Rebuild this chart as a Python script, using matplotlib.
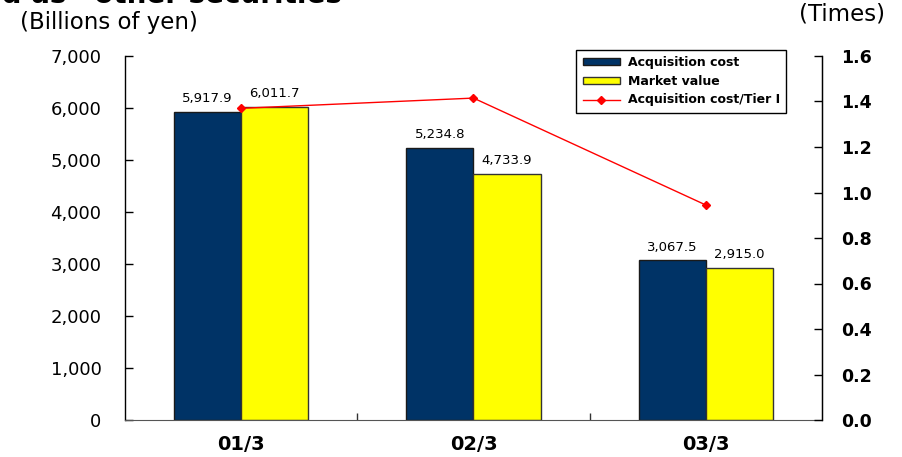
import matplotlib.pyplot as plt
import numpy as np
from matplotlib.ticker import FuncFormatter, FixedLocator

# Holdings classified as "other securities"
periods = ["01/3", "02/3", "03/3"]
acq_cost = [5917.9, 5234.8, 3067.5]        # billions of yen
market_value = [6011.7, 4733.9, 2915.0]    # billions of yen
cost_to_tier1 = [1.37, 1.415, 0.945]       # times

navy = "#003366"
yellow = "#FFFF00"
red = "#FF0000"

plt.rcParams['font.family'] = ['DejaVu Sans']

fig = plt.figure(figsize=(9.03, 4.57), dpi=100)
ax = fig.add_axes([125/903, 1 - 420/457, 697/903, 364/457])
ax2 = ax.twinx()

x = np.arange(len(periods))
w = 0.289

b1 = ax.bar(x - w/2, acq_cost, w, color=navy, edgecolor="#1a1a1a", linewidth=1, label="Acquisition cost", zorder=2)
b2 = ax.bar(x + w/2, market_value, w, color=yellow, edgecolor="#333333", linewidth=1, label="Market value", zorder=2)

for bars, vals in [(b1, acq_cost), (b2, market_value)]:
    for rect, v in zip(bars, vals):
        ax.annotate(f"{v:,.1f}", (rect.get_x() + rect.get_width()/2, v),
                    xytext=(0, 5), textcoords="offset points",
                    ha="center", va="bottom", fontsize=9.5, color="black")

ln, = ax2.plot(x, cost_to_tier1, color=red, linewidth=1, marker="D", markersize=4,
               label="Acquisition cost/Tier I", zorder=3)

ax.set_xlim(-0.5, 2.5)
ax.set_ylim(0, 7000)
ax2.set_ylim(0, 1.6)

ax.set_yticks(np.arange(0, 7001, 1000))
ax.yaxis.set_major_formatter(FuncFormatter(lambda v, p: f"{v:,.0f}"))
ax.tick_params(axis="y", direction="in", length=6, width=1, labelsize=13, pad=17)

ax2.set_yticks(np.arange(0, 1.61, 0.2))
ax2.yaxis.set_major_formatter(FuncFormatter(lambda v, p: f"{v:.1f}"))
ax2.tick_params(axis="y", direction="in", length=6, width=1, labelsize=12.5, pad=14)
for lbl in ax2.get_yticklabels():
    lbl.set_fontweight("bold")

ax.set_xticks(x)
ax.set_xticklabels(periods, fontsize=14, fontweight="bold")
ax.tick_params(axis="x", length=0, pad=11)
ax.xaxis.set_minor_locator(FixedLocator([0.5, 1.5]))
ax.tick_params(axis="x", which="minor", direction="in", length=5, width=1, color="#333333")

for a in (ax, ax2):
    a.spines["top"].set_visible(False)
ax.spines["bottom"].set_color("#555555")
ax.spines["left"].set_linewidth(1)
ax2.spines["right"].set_linewidth(1)
ax2.spines["left"].set_visible(False)
ax2.spines["bottom"].set_visible(False)

fig.text(20/903, 1 - 22/457, "(Billions of yen)", fontsize=16.5, ha="left", va="center")
fig.text(885/903, 1 - 14/457, "(Times)", fontsize=16.5, ha="right", va="center")
fig.text(360/903, 1 - 3/457, "Stocks classified as \u201cother securities\u201d",
         fontsize=20, fontweight="bold", ha="right", va="baseline")

leg = ax2.legend([b1, b2, ln], ["Acquisition cost", "Market value", "Acquisition cost/Tier I"],
                 loc="upper right", bbox_to_anchor=(786/903, 1 - 50/457),
                 bbox_transform=fig.transFigure, borderaxespad=0,
                 fancybox=False, frameon=True, edgecolor="black", framealpha=1,
                 prop={"weight": "bold", "size": 9}, handlelength=3.0,
                 handleheight=0.5, labelspacing=0.45, borderpad=0.5, handletextpad=0.6)
leg.get_frame().set_linewidth(1)

fig.savefig("out.png", dpi=100)
